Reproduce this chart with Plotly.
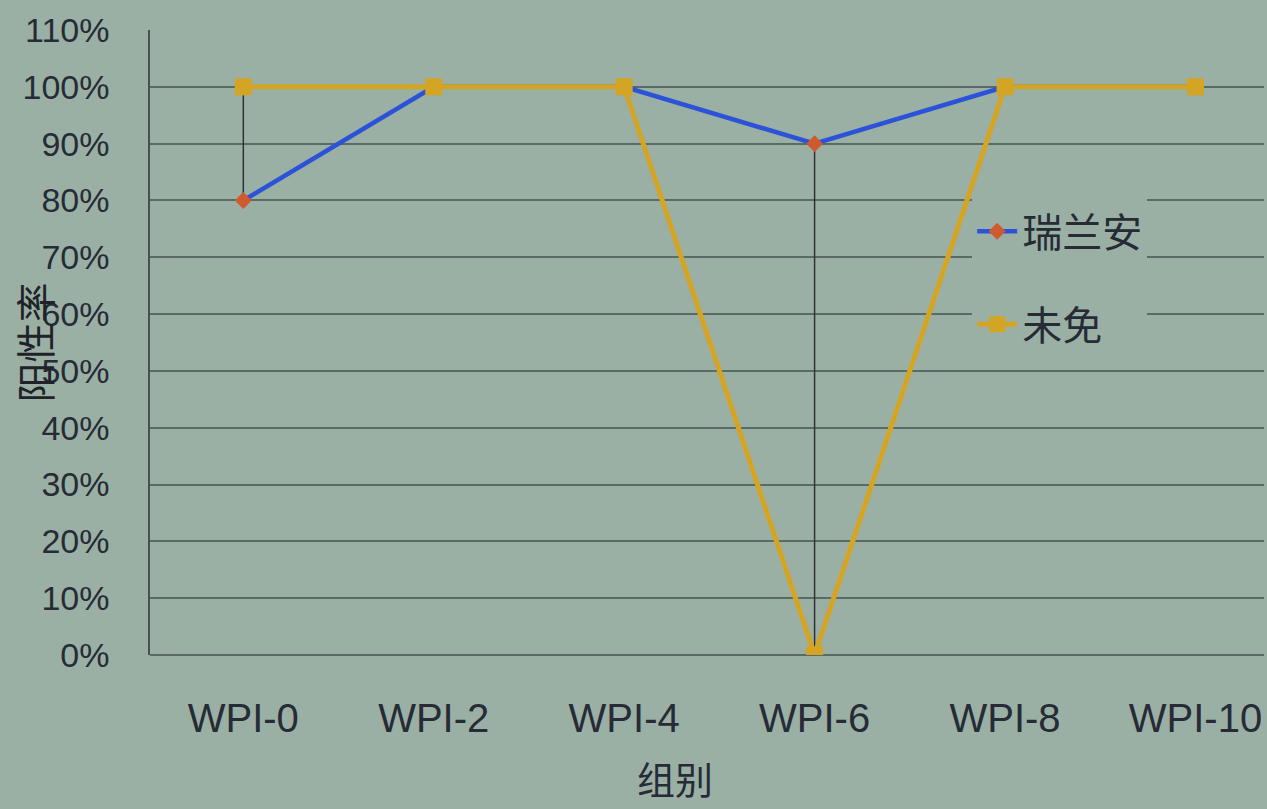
import plotly.graph_objects as go

# Groups and positive rates for the two series
groups = ["WPI-0", "WPI-2", "WPI-4", "WPI-6", "WPI-8", "WPI-10"]
ruilanan = [0.80, 1.00, 1.00, 0.90, 1.00, 1.00]
weimian = [1.00, 1.00, 1.00, 0.00, 1.00, 1.00]
y_ticks = [i / 10 for i in range(12)]
y_tick_text = [f"{i * 10}%" for i in range(12)]

BG = "#9bb0a4"
GRID = "#5a6b65"
TEXT = "#262b36"
BLUE = "#2b52d8"
GOLD = "#d4a424"

# High-low lines joining the two series at each group
hl_x, hl_y = [], []
for g, a, b in zip(groups, ruilanan, weimian):
    hl_x += [g, g, None]
    hl_y += [a, b, None]

fig = go.Figure()
fig.add_trace(go.Scatter(
    x=hl_x, y=hl_y, mode="lines", showlegend=False, hoverinfo="skip",
    line=dict(color="#2e3436", width=1.5),
))
fig.add_trace(go.Scatter(
    x=groups, y=ruilanan, name="瑞兰安", mode="lines+markers", legendgroup="a",
    line=dict(color=BLUE, width=4.5),
    marker=dict(symbol="diamond", size=13, color="#cf5a2e",
                line=dict(color="#cf5a2e", width=0)),
))
fig.add_trace(go.Scatter(
    x=groups, y=weimian, name="未免", mode="lines+markers", legendgroup="b",
    line=dict(color=GOLD, width=5),
    marker=dict(symbol="square", size=17, color=GOLD),
))

fig.update_layout(
    width=1267, height=809,
    margin=dict(l=150, r=3, t=30, b=154),
    paper_bgcolor=BG, plot_bgcolor=BG,
    font=dict(family="Liberation Sans, Arial, sans-serif", color=TEXT),
    legend=dict(
        x=0.738, y=0.73, xanchor="left", yanchor="top",
        bgcolor=BG, borderwidth=0,
        font=dict(family="Noto Sans CJK SC", size=40, color=TEXT),
        tracegroupgap=38, itemwidth=40,
    ),
    xaxis=dict(
        type="category", range=[-0.49, 5.36],
        showgrid=False, showline=False, zeroline=False, ticks="",
        tickfont=dict(size=40, color=TEXT),
        ticklabelstandoff=36,
    ),
    yaxis=dict(
        range=[0, 1.1], tickvals=y_ticks, ticktext=y_tick_text,
        showgrid=True, gridcolor=GRID, gridwidth=2,
        zeroline=True, zerolinecolor=GRID, zerolinewidth=2,
        showline=True, linecolor="#4a4f52", linewidth=1.5,
        ticks="", tickfont=dict(size=34, color=TEXT),
        ticklabelstandoff=32,
    ),
    annotations=[
        dict(text="阳性率", textangle=-90, xref="paper", yref="paper",
             x=0, y=0.5, xshift=-117, xanchor="center", yanchor="middle",
             showarrow=False,
             font=dict(family="Noto Sans CJK SC", size=40, color="#1f2328")),
        dict(text="组别", xref="paper", yref="paper",
             x=0.471, y=0, yshift=-122, xanchor="center", yanchor="middle",
             showarrow=False,
             font=dict(family="Noto Sans CJK SC", size=38, color=TEXT)),
    ],
)

fig.write_html("out.html")
